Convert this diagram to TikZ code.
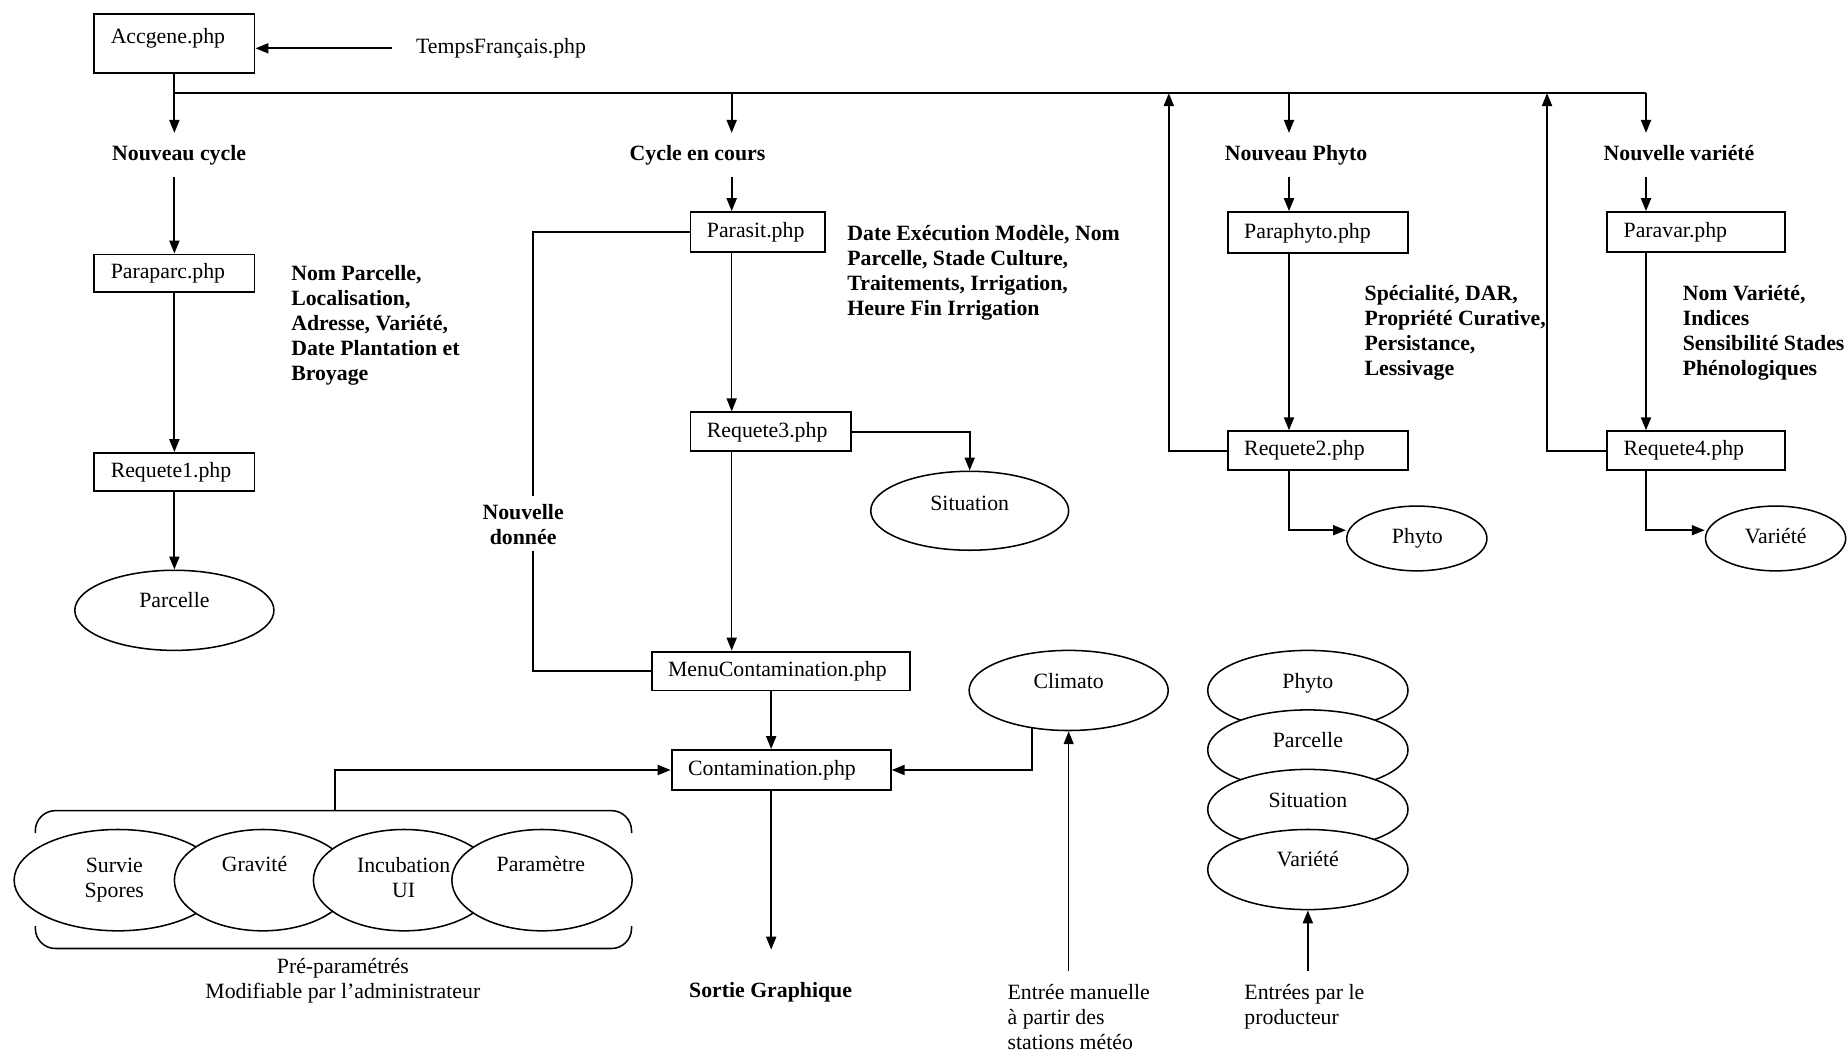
\documentclass[tikz,border=0pt]{standalone}
\usepackage{fontspec}
\setmainfont{Liberation Serif}
\usetikzlibrary{arrows.meta,shapes.geometric,calc}
\begin{document}
\begin{tikzpicture}[x=1pt,y=-1pt,
  every node/.style={font=\fontsize{18.5}{21.3}\selectfont},
  ln/.style={line width=1.6pt},
  thin/.style={line width=1.2pt},
  arr/.style={line width=1.6pt,-{Triangle[length=11pt,width=8.5pt]}},
  tarr/.style={line width=1.2pt,-{Triangle[length=11pt,width=8.5pt]}},
  box/.style={draw,line width=1.6pt,inner xsep=14pt,inner ysep=0pt,align=left,text height=13pt,text depth=4pt},
  ell/.style={draw,ellipse,line width=1.3pt,fill=white,inner sep=0pt},
  txt/.style={inner sep=0pt,text height=13pt,text depth=4pt},
  lbl/.style={inner xsep=0pt,inner ysep=10pt,text height=13pt,text depth=4pt,font=\fontsize{18.5}{21.3}\selectfont\bfseries},
  desc/.style={inner sep=0pt,align=left,anchor=north west,font=\fontsize{18.5}{21.3}\selectfont\bfseries},
  note/.style={inner sep=0pt,align=left,anchor=north west},
]
\useasboundingbox (0,0) rectangle (1567.6,892);

% boxes
\node[box,text width=108pt,minimum height=50pt,text depth=13pt] (acc) at (148,37) {Accgene.php};
\node[box,text width=108pt,minimum height=32pt] (paraparc) at (148,232) {Paraparc.php};
\node[box,text width=108pt,minimum height=32pt] (req1) at (148,400.5) {Requete1.php};
\node[box,text width=86pt,minimum height=34pt] (parasit) at (643,197) {Parasit.php};
\node[box,text width=108pt,minimum height=33pt] (req3) at (654,366.5) {Requete3.php};
\node[box,text width=191pt,minimum height=33pt] (menu) at (662.5,569.5) {MenuContamination.php};
\node[box,text width=158pt,minimum height=34pt] (contam) at (663,653.5) {Contamination.php};
\node[box,text width=125pt,minimum height=35pt] (paraphyto) at (1118.5,197.5) {Paraphyto.php};
\node[box,text width=125pt,minimum height=33pt] (req2) at (1118.5,382.5) {Requete2.php};
\node[box,text width=123pt,minimum height=34pt] (paravar) at (1439.5,197) {Paravar.php};
\node[box,text width=123pt,minimum height=33pt] (req4) at (1439.5,382.5) {Requete4.php};

\node[txt,anchor=west,inner xsep=20pt] (tf) at (333,41) {TempsFrançais.php};

% labels
\node[lbl,anchor=base] (nc) at (152,136) {Nouveau cycle};
\node[lbl,anchor=base] (cec) at (592,136) {Cycle en cours};
\node[lbl,anchor=base] (np) at (1100,136) {Nouveau Phyto};
\node[lbl,anchor=base] (nv) at (1425,136) {Nouvelle variété};
\node[lbl,anchor=base] (sg) at (654,847) {Sortie Graphique};

% descriptions
\node[desc] (dparc) at (247,223) {\strut Nom Parcelle,\\Localisation,\\Adresse, Variété,\\Date Plantation et\\Broyage};
\node[desc] (dpara) at (719,189) {\strut Date Exécution Modèle, Nom\\Parcelle, Stade Culture,\\Traitements, Irrigation,\\Heure Fin Irrigation};
\node[desc] (dphyto) at (1158,240) {\strut Spécialité, DAR,\\Propriété Curative,\\Persistance,\\Lessivage};
\node[desc] (dvar) at (1428,240) {\strut Nom Variété,\\Indices\\Sensibilité Stades\\Phénologiques};
\node[note] (nmet) at (855,833) {\strut Entrée manuelle\\à partir des\\stations météo};
\node[note] (nprod) at (1056,833) {\strut Entrées par le\\producteur};
\node[inner sep=0pt,align=center,anchor=north] (npre) at (291,811) {\strut Pré-paramétrés\\Modifiable par l’administrateur};

% coordinates
\coordinate (b1) at (148,79);
\coordinate (b2) at (621,79);
\coordinate (b3) at (1094,79);
\coordinate (b4) at (1397,79);
\coordinate (u1) at (992,79);
\coordinate (u2) at (1313,79);
\coordinate (sgtop) at (654.5,806);
\coordinate (entM) at (907,824);
\coordinate (entP) at (1110,824);
\coordinate (brk) at (284,688);

% ellipses
\node[ell,minimum width=169pt,minimum height=68pt] (parcelle) at (148,518) {};
\node[ell,minimum width=168pt,minimum height=67pt] (situation) at (823,433.5) {};
\node[ell,minimum width=119pt,minimum height=55pt] (phyto) at (1202.5,457) {};
\node[ell,minimum width=119pt,minimum height=55pt] (variete) at (1507,457) {};
\node[ell,minimum width=169pt,minimum height=68pt] (climato) at (907,586) {};
\node[ell,minimum width=170pt,minimum height=68pt] (s1) at (1110,586) {};
\node[ell,minimum width=170pt,minimum height=68pt] (s2) at (1110,636.5) {};
\node[ell,minimum width=170pt,minimum height=68pt] (s3) at (1110,687) {};
\node[ell,minimum width=170pt,minimum height=68pt] (s4) at (1110,738) {};
\node[ell,minimum width=176pt,minimum height=86pt] (e1) at (100,747) {};
\node[ell,minimum width=150pt,minimum height=86pt] (e2) at (223,747) {};
\node[ell,minimum width=154pt,minimum height=86pt] (e3) at (343,747) {};
\node[ell,minimum width=153pt,minimum height=86pt] (e4) at (460,747) {};

\node[txt] (parcelleT) at (148,511.5) {Parcelle};
\node[txt] (situationT) at (823,428.5) {Situation};
\node[txt] (phytoT) at (1203,457) {Phyto};
\node[txt] (varieteT) at (1507,457) {Variété};
\node[txt] (climatoT) at (907,579.5) {Climato};
\node[txt] (s1T) at (1110,579.5) {Phyto};
\node[txt] (s2T) at (1110,629.5) {Parcelle};
\node[txt] (s3T) at (1110,680.5) {Situation};
\node[txt] (s4T) at (1110,730.5) {Variété};
\node[inner sep=0pt,align=center,anchor=north] (e1T) at (97,725) {\strut Survie\\Spores};
\node[txt] (e2T) at (216,735.5) {Gravité};
\node[inner sep=0pt,align=center,anchor=north] (e3T) at (342.6,725) {\strut Incubation\\UI};
\node[txt] (e4T) at (459,735.5) {Paramètre};

% bracket
\draw[line width=1.3pt,rounded corners=17pt] (30,707) -- (30,688) -- (536,688) -- (536,707);
\draw[line width=1.3pt,rounded corners=17pt] (30,786) -- (30,805) -- (536,805) -- (536,786);

% connectors
\draw[arr] (tf.west) -- (tf.west -| acc.east);
\draw[ln] (acc.south) -- (b1) -- (b4);
\draw[arr] (b1) -- (nc.north -| b1);
\draw[arr] (b2) -- (cec.north -| b2);
\draw[arr] (b3) -- (np.north -| b3);
\draw[arr] (b4) -- (nv.north -| b4);
\draw[arr] (nc.south -| b1) -- (paraparc.north);
\draw[arr] (cec.south -| b2) -- (parasit.north -| b2);
\draw[arr] (np.south -| b3) -- (paraphyto.north -| b3);
\draw[arr] (nv.south -| b4) -- (paravar.north -| b4);
\draw[arr] (paraparc.south) -- (req1.north);
\draw[arr] (req1.south) -- (parcelle.north);
\draw[tarr] (parasit.south -| b2) -- (req3.north -| b2);
\draw[tarr] (req3.south -| b2) -- (menu.north -| b2);
\draw[arr] (req3.east) -| (situation.north);
\draw[thin] (parasit.west) -| ([xshift=-100pt]menu.west) -- (menu.west);
\draw[arr] (menu.south -| sgtop) -- (contam.north -| sgtop);
\draw[arr] (contam.south -| sgtop) -- (sgtop);
\draw[arr] (climato.226) |- (contam.east);
\draw[tarr] (entM) -- (climato.south);
\draw[arr] (entP) -- (s4.south);
\draw[arr] (brk) |- (contam.west);
\draw[arr] (paraphyto.south -| b3) -- (req2.north -| b3);
\draw[arr] (paravar.south -| b4) -- (req4.north -| b4);
\draw[arr] (req2.west) -| (u1);
\draw[arr] (req4.west) -| (u2);
\draw[arr] (req2.south -| b3) |- ([yshift=7pt]phyto.west);
\draw[arr] (req4.south -| b4) |- ([yshift=7pt]variete.west);

\node[fill=white,inner xsep=2pt,inner ysep=5pt,align=center,anchor=north,font=\fontsize{18.5}{21.3}\selectfont\bfseries] (nd) at (444,421) {\strut Nouvelle\\donnée};
\end{tikzpicture}
\end{document}
